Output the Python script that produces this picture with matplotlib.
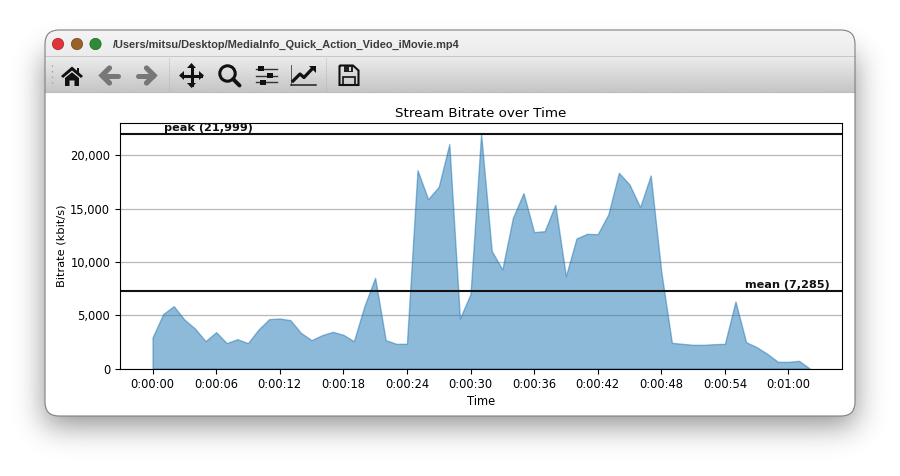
import math
import matplotlib
matplotlib.use('Agg')
import matplotlib.pyplot as plt
import numpy as np
from matplotlib.colors import LinearSegmentedColormap
from matplotlib.patches import FancyBboxPatch, Circle, Polygon, Rectangle, PathPatch
from matplotlib.path import Path
from matplotlib.ticker import FuncFormatter, MultipleLocator

# bitrate per second, kbit/s
seconds = list(range(63))
bitrate = [2908, 5097, 5848, 4597, 3752, 2564, 3408, 2377, 2752, 2377,
           3659, 4628, 4690, 4534, 3346, 2658, 3127, 3440, 3158, 2564,
           5879, 8505, 2658, 2314, 2314, 18605, 15885, 17042, 21045, 4690,
           6973, 21999, 11038, 9287, 14134, 16448, 12790, 12883, 15354, 8662,
           12195, 12633, 12602, 14447, 18355, 17261, 15135, 18105, 9068, 2408,
           2314, 2220, 2220, 2283, 2314, 6285, 2470, 2001, 1376, 625,
           625, 719, 0]
peak = 21999
mean = 7285
window_title = '/Users/mitsu/Desktop/MediaInfo_Quick_Action_Video_iMovie.mp4'

fig = plt.figure(figsize=(9, 4.76), dpi=100, facecolor='white')

# window chrome, in pixel coordinates
bg = fig.add_axes([0, 0, 1, 1], zorder=0)
bg.axis('off')

# soft drop shadow
erf = np.vectorize(math.erf)
sigma = 15 * math.sqrt(2)
xx = np.arange(900) + 0.5
yy = np.arange(476) + 0.5
px = 0.5 * (erf((xx - 45) / sigma) - erf((xx - 855) / sigma))
py = 0.5 * (erf((yy - 55) / sigma) - erf((yy - 425) / sigma))
shadow = 1 - 0.45 * np.outer(py, px)
bg.imshow(shadow, extent=(0, 900, 476, 0), cmap='gray', vmin=0, vmax=1, aspect='auto', zorder=1)

win = FancyBboxPatch((45, 30), 810, 386, boxstyle='round,pad=0,rounding_size=14',
                     fc='white', ec='none', zorder=2)
bg.add_patch(win)

# title bar and toolbar gradients
grad = np.linspace(0, 1, 26).reshape(-1, 1)
im = bg.imshow(grad, extent=(45, 855, 56, 30), cmap=LinearSegmentedColormap.from_list('t', ['#f4f4f4', '#ececec']),
               aspect='auto', zorder=3)
im.set_clip_path(win)
im2 = bg.imshow(grad, extent=(45, 855, 92, 56), cmap=LinearSegmentedColormap.from_list('b', ['#ececec', '#c6c6c6']),
                aspect='auto', zorder=3)
im2.set_clip_path(win)
bg.set_xlim(0, 900)
bg.set_ylim(476, 0)
bg.plot([45, 855], [56, 56], color='#c8c8c8', lw=0.8, zorder=4)
bg.plot([45, 855], [92, 92], color='#bcbcbc', lw=0.8, zorder=4)
bg.add_patch(FancyBboxPatch((45, 30), 810, 386, boxstyle='round,pad=0,rounding_size=14',
                            fc='none', ec='#808080', lw=0.8, zorder=5))

for cx, fc, ec in [(58, '#e0343a', '#b8282c'), (77, '#98622a', '#7d4f1c'), (95.5, '#2f8b38', '#256e2c')]:
    bg.add_patch(Circle((cx, 44), 5.6, fc=fc, ec=ec, lw=0.6, zorder=6))

bg.text(113, 44.5, window_title, family='Liberation Sans', fontweight='bold', fontsize=7.95,
        color='#3c3c3c', va='center', ha='left', zorder=6)

# toolbar separators
for sx in [169, 326]:
    bg.plot([sx, sx], [58, 91], color='#a8a8a8', lw=0.6, ls=(0, (1, 1.5)), zorder=6)
bg.plot([52, 52], [65, 83], color='#a0a0a0', lw=1.0, ls=(0, (1, 3)), zorder=6)

dark = '#111111'
grey = '#777777'

# home
bg.add_patch(Polygon([(61, 76), (72, 66.5), (83, 76), (81, 78), (72, 70.5), (63, 78)], fc=dark, zorder=6))
bg.add_patch(Polygon([(65, 78), (72, 72.3), (79, 78), (79, 86), (74.5, 86), (74.5, 80.5),
                      (69.5, 80.5), (69.5, 86), (65, 86)], fc=dark, zorder=6))
bg.add_patch(Rectangle((76.5, 67.5), 2.5, 5, fc=dark, zorder=6))

# back / forward arrows
for x0, sgn in [(110, -1), (146, 1)]:
    bg.plot([x0 - sgn * 8, x0 + sgn * 7], [75.5, 75.5], color=grey, lw=3.6, solid_capstyle='round', zorder=6)
    bg.plot([x0 + sgn * 0.5, x0 + sgn * 8, x0 + sgn * 0.5], [68, 75.5, 83], color=grey, lw=3.8,
            solid_capstyle='round', solid_joinstyle='miter', zorder=6)

# move
cx, cy = 191.5, 75.5
bg.plot([cx - 9, cx + 9], [cy, cy], color=dark, lw=2.2, zorder=6)
bg.plot([cx, cx], [cy - 9, cy + 9], color=dark, lw=2.2, zorder=6)
for dx, dy in [(1, 0), (-1, 0), (0, 1), (0, -1)]:
    tip = (cx + dx * 12.5, cy + dy * 12.5)
    bg.add_patch(Polygon([tip, (cx + dx * 7.5 + dy * 4.5, cy + dy * 7.5 + dx * 4.5),
                          (cx + dx * 7.5 - dy * 4.5, cy + dy * 7.5 - dx * 4.5)], fc=dark, zorder=6))

# zoom
bg.add_patch(Circle((227.5, 73.5), 7.7, fc='none', ec=dark, lw=2.2, zorder=6))
bg.plot([233, 239.5], [79, 85.5], color=dark, lw=2.8, solid_capstyle='round', zorder=6)

# sliders
for sy, kx in [(68.5, 261), (75.5, 270), (82, 263)]:
    bg.plot([256, 277], [sy, sy], color='#333333', lw=1.0, zorder=6)
    bg.add_patch(Rectangle((kx - 3, sy - 2.5), 6, 5, fc=dark, zorder=6))

# edit curves
bg.plot([291, 291], [65, 85], color='#555555', lw=0.7, zorder=6)
bg.plot([291, 316], [85, 85], color='#222222', lw=1.1, zorder=6)
bg.plot([293, 300, 304, 312], [81, 74, 77.5, 69], color=dark, lw=2.3, zorder=6)
bg.add_patch(Polygon([(316, 66), (316, 73), (309, 66)], fc=dark, zorder=6))

# save
save = Path([(339.5, 65.5), (353, 65.5), (358.5, 70.5), (358.5, 85), (339.5, 85), (339.5, 65.5)])
bg.add_patch(PathPatch(save, fc='none', ec=dark, lw=1.5, zorder=6))
bg.add_patch(Rectangle((343.5, 65.5), 9, 6, fc='#222222', ec='none', zorder=6))
bg.add_patch(Rectangle((349, 66.5), 2, 4, fc='#d8d8d8', ec='none', zorder=7))
bg.add_patch(Rectangle((343, 76.5), 12, 8.5, fc='none', ec=dark, lw=1.2, zorder=6))

# the actual chart
ax = fig.add_axes([120 / 900, 1 - 368.5 / 476, 722 / 900, 245.5 / 476], zorder=1)
ax.fill_between(seconds, bitrate, 0, color='tab:blue', alpha=0.5)
ax.axhline(peak, color='#111111', lw=1.5)
ax.axhline(mean, color='#111111', lw=1.5)
ax.text(1.1, peak + 60, 'peak (21,999)', fontweight='bold', fontsize=8.1, va='bottom', ha='left', color='#111111')
ax.text(63.9, mean + 110, 'mean (7,285)', fontweight='bold', fontsize=8.1, va='bottom', ha='right', color='#111111')

ax.set_xlim(-3.07, 65.05)
ax.set_ylim(0, 23030)
ax.xaxis.set_major_locator(MultipleLocator(6))
ax.xaxis.set_major_formatter(FuncFormatter(lambda v, p: '%d:%02d:%02d' % (v // 3600, v % 3600 // 60, v % 60)))
ax.yaxis.set_major_locator(MultipleLocator(5000))
ax.yaxis.set_major_formatter(FuncFormatter(lambda v, p: format(int(v), ',')))
ax.tick_params(labelsize=8.3, length=3.5, width=0.8, pad=3.5)
ax.grid(axis='y', color='#b8b8b8', lw=0.9)
ax.set_axisbelow(True)
ax.set_title('Stream Bitrate over Time', fontsize=9.7, pad=4.5)
ax.set_xlabel('Time', fontsize=8.3, labelpad=3)
ax.set_ylabel('Bitrate (kbit/s)', fontsize=8.2, labelpad=2.5)

fig.savefig('out.png', dpi=100)
